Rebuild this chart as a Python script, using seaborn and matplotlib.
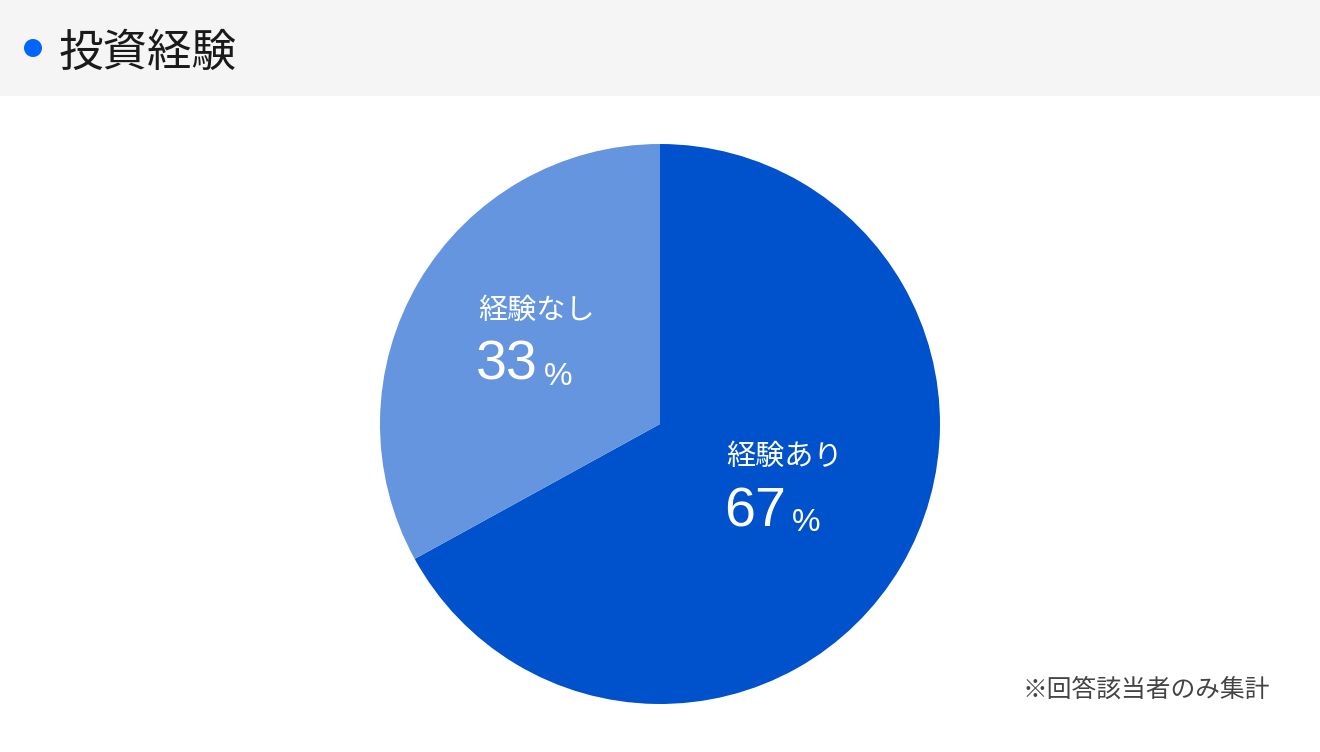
import numpy as np
import matplotlib
matplotlib.use('Agg')
import matplotlib.pyplot as plt
import matplotlib.transforms as mtransforms
from matplotlib.patches import Rectangle, Ellipse
import seaborn as sns

# data
labels = ['経験あり', '経験なし']
values = [67, 33]
colors = ['#0052cc', '#6495de']
title = '投資経験'
note = '※回答該当者のみ集計'

sns.set_theme(style='white')
plt.rcParams['font.family'] = ['Noto Sans CJK JP', 'DejaVu Sans']

W, H = 1320, 752
fig = plt.figure(figsize=(W / 100, H / 100), dpi=100)
fig.patch.set_facecolor('white')

# header band
fig.patches.append(Rectangle((0, 1 - 96 / H), 1, 96 / H, transform=fig.transFigure,
                             facecolor='#f5f5f5', edgecolor='none', zorder=0))
fig.patches.append(Ellipse((33 / W, 1 - 48 / H), 18 / W, 18 / H, transform=fig.transFigure,
                           facecolor='#0066ff', edgecolor='none', zorder=1))
fig.text(59 / W, 1 - 53 / H, title, fontsize=32, color='#1a1a1a', ha='left', va='center')

# pie
R = 280
cx, cy = 660, 424
ax = fig.add_axes([(cx - R) / W, (H - cy - R) / H, 2 * R / W, 2 * R / H])
wedges, _ = ax.pie(values, colors=colors, startangle=90, counterclock=False,
                   wedgeprops=dict(linewidth=0))
ax.set_xlim(-1, 1)
ax.set_ylim(-1, 1)
ax.set_aspect('equal')
ax.axis('off')

fig.canvas.draw()
renderer = fig.canvas.get_renderer()
for w, lab, v in zip(wedges, labels, values):
    mid = np.deg2rad((w.theta1 + w.theta2) / 2)
    x, y = 0.514 * np.cos(mid), 0.514 * np.sin(mid)
    t_name = mtransforms.offset_copy(ax.transData, fig=fig, x=-58, y=40, units='dots')
    ax.text(x, y, lab, fontsize=21, color='white', ha='left', va='center', transform=t_name)
    t_num = mtransforms.offset_copy(ax.transData, fig=fig, x=-60, y=-29, units='dots')
    num = ax.text(x, y, str(v), fontsize=40, color='white', ha='left', va='baseline',
                  family=['Liberation Sans'], transform=t_num)
    ext = num.get_window_extent(renderer)
    fig.text((ext.x1 + 6) / W, ext.y0 / H, '%', fontsize=23, color='white',
             family=['Liberation Sans'], ha='left', va='bottom')

fig.text(1270 / W, 1 - 690 / H, note, fontsize=17.8, color='#444444', ha='right', va='center')

fig.savefig('out.png', dpi=100)
